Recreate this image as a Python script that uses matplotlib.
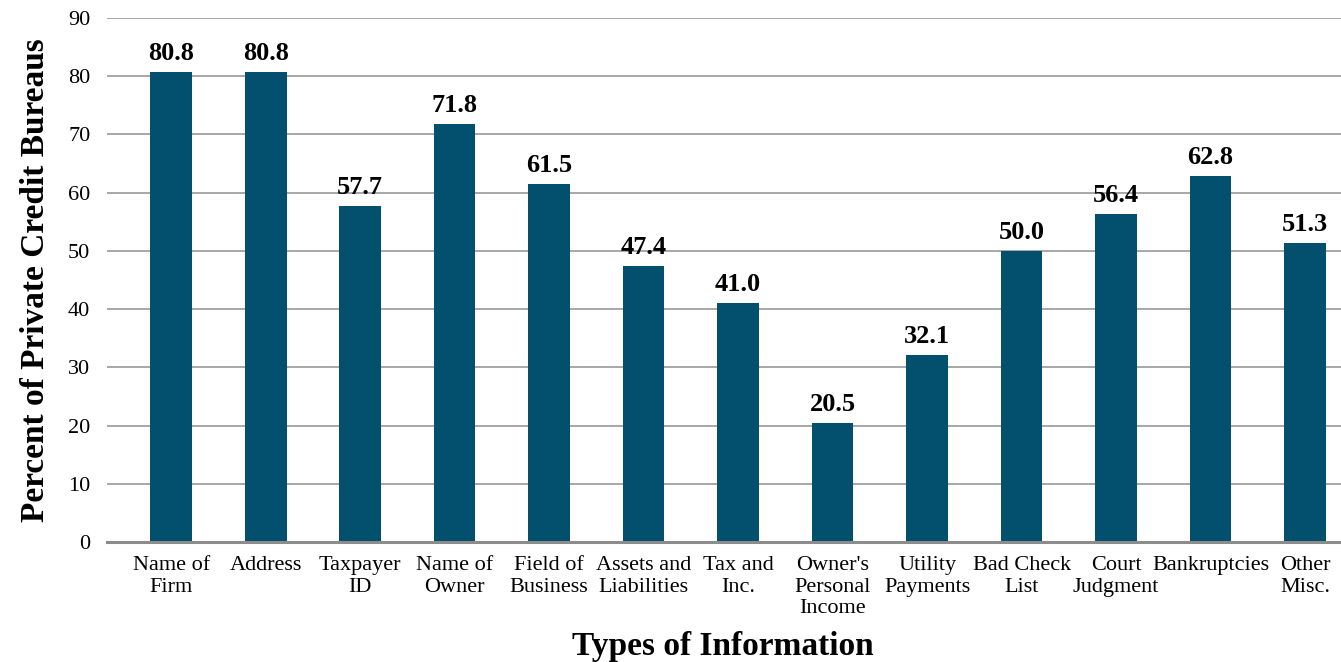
import matplotlib
matplotlib.use("Agg")
import matplotlib.pyplot as plt

categories = ["Name of\nFirm", "Address", "Taxpayer\nID", "Name of\nOwner",
              "Field of\nBusiness", "Assets and\nLiabilities", "Tax and\nInc.",
              "Owner's\nPersonal\nIncome", "Utility\nPayments", "Bad Check\nList",
              "Court\nJudgment", "Bankruptcies", "Other\nMisc."]
values = [80.8, 80.8, 57.7, 71.8, 61.5, 47.4, 41.0, 20.5, 32.1, 50.0, 56.4, 62.8, 51.3]
yticks = [0, 10, 20, 30, 40, 50, 60, 70, 80, 90]

plt.rcParams["font.family"] = ["Liberation Serif", "DejaVu Serif"]

W, H = 1341, 662
fig = plt.figure(figsize=(W / 100, H / 100), dpi=100)
ax = fig.add_axes([107 / W, 120 / H, (W - 107) / W, 524 / H])

bar_color = "#034f6e"
x = list(range(len(values)))
ax.bar(x, values, width=0.44, color=bar_color, zorder=3)

for xi, v in zip(x, values):
    ax.annotate(f"{v:.1f}", (xi, v), xytext=(0, 5), textcoords="offset points",
                ha="center", va="bottom", fontsize=19, fontweight="bold", color="black")

ax.set_ylim(0, 90)
ax.set_xlim(-0.68, 12.38)
ax.set_yticks(yticks)
ax.set_yticklabels([str(t) for t in yticks], fontsize=16)
ax.set_xticks(x)
ax.set_xticklabels(categories, fontsize=16, linespacing=1.2)
ax.tick_params(axis="x", length=0, pad=10)
ax.tick_params(axis="y", length=0, pad=12)

ax.grid(axis="y", color="#a0a0a0", linewidth=1.3, zorder=0)
for s in ["top", "right", "left"]:
    ax.spines[s].set_visible(False)
ax.spines["bottom"].set_color("#8c8c8c")
ax.spines["bottom"].set_linewidth(2.2)
ax.spines["bottom"].set_zorder(4)

ax.set_ylabel("Percent of Private Credit Bureaus", fontsize=24, fontweight="bold", labelpad=12)
fig.text(723 / W, 1 - 647 / H, "Types of Information", fontsize=24, fontweight="bold",
         ha="center", va="center")

fig.savefig("out.png", dpi=100)
